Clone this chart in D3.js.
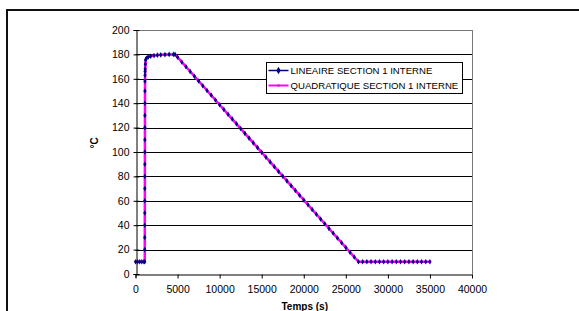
<!DOCTYPE html>
<html>
<head>
<meta charset="utf-8">
<script src="https://cdn.jsdelivr.net/npm/d3@7"></script>
<style>
  body { margin: 0; background: #fff; }
  svg { display: block; font-family: "Liberation Sans", Arial, sans-serif; }
</style>
</head>
<body>
<script>
var width = 579,
    height = 311;

// temps (s) / temperature (°C)
var timeLin = [0, 250, 500, 750, 1000, 1100, 1102, 1104, 1106, 1108, 1110, 1112, 1114, 1116, 1118, 1120,
  1122, 1124, 1126, 1128, 1130, 1135, 1140, 1150, 1170, 1200, 1300, 1500, 1800, 2200, 2600, 3000, 3500,
  4000, 4500, 4700, 5000, 5500, 6000, 6500, 7000, 7500, 8000, 8500, 9000, 9500, 10000, 10500, 11000,
  11500, 12000, 12500, 13000, 13500, 14000, 14500, 15000, 15500, 16000, 16500, 17000, 17500, 18000,
  18500, 19000, 19500, 20000, 20500, 21000, 21500, 22000, 22500, 23000, 23500, 24000, 24500, 25000,
  25500, 26000, 26500, 27000, 27500, 28000, 28500, 29000, 29500, 30000, 30500, 31000, 31500, 32000,
  32500, 33000, 33500, 34000, 34500, 35000];
var tempLin = [10, 10, 10, 10, 10, 10, 20, 30, 40, 50, 60, 70, 80, 90, 100, 110,
  120, 130, 140, 150, 158, 163, 166, 168, 172, 175.5, 176.8, 177.8, 178.5, 179, 179.4, 179.6, 179.8,
  180, 180, 180, 177.7, 173.8, 169.9, 166.0, 162.1, 158.2, 154.3, 150.4, 146.5, 142.6, 138.7, 134.8, 130.9,
  127.0, 123.1, 119.2, 115.3, 111.4, 107.5, 103.6, 99.7, 95.8, 91.9, 88.0, 84.1, 80.2, 76.3,
  72.4, 68.5, 64.6, 60.7, 56.8, 52.9, 49.0, 45.1, 41.2, 37.3, 33.4, 29.5, 25.6, 21.7,
  17.8, 13.9, 10.0, 10, 10, 10, 10, 10, 10, 10, 10, 10, 10, 10,
  10, 10, 10, 10, 10, 10];

var timeQuad = [0, 250, 500, 750, 1000, 1100, 1102, 1104, 1106, 1108, 1110, 1112, 1114, 1116, 1118, 1120,
  1122, 1124, 1126, 1128, 1132, 1140, 1150, 1165, 1185, 1210, 1300, 1500, 1800, 2200, 2600, 3000, 3500,
  4000, 4500, 4700, 5000, 5500, 6000, 6500, 7000, 7500, 8000, 8500, 9000, 9500, 10000, 10500, 11000,
  11500, 12000, 12500, 13000, 13500, 14000, 14500, 15000, 15500, 16000, 16500, 17000, 17500, 18000,
  18500, 19000, 19500, 20000, 20500, 21000, 21500, 22000, 22500, 23000, 23500, 24000, 24500, 25000,
  25500, 26000, 26500, 27000, 27500, 28000, 28500, 29000, 29500, 30000, 30500, 31000, 31500, 32000,
  32500, 33000, 33500, 34000, 34500, 35000];
var tempQuad = [10, 10, 10, 10, 10, 10, 20, 30, 40, 50, 60, 70, 80, 90, 100, 110,
  120, 130, 140, 150, 158, 162, 165, 168, 171.5, 175.5, 176.8, 177.9, 178.6, 179.1, 179.5, 179.7, 179.9,
  180, 180, 180, 177.7, 173.8, 169.9, 166.0, 162.1, 158.2, 154.3, 150.4, 146.5, 142.6, 138.7, 134.8, 130.9,
  127.0, 123.1, 119.2, 115.3, 111.4, 107.5, 103.6, 99.7, 95.8, 91.9, 88.0, 84.1, 80.2, 76.3,
  72.4, 68.5, 64.6, 60.7, 56.8, 52.9, 49.0, 45.1, 41.2, 37.3, 33.4, 29.5, 25.6, 21.7,
  17.8, 13.9, 10.0, 10, 10, 10, 10, 10, 10, 10, 10, 10, 10, 10,
  10, 10, 10, 10, 10, 10];

var xTicks = [0, 5000, 10000, 15000, 20000, 25000, 30000, 35000, 40000];
var yTicks = [0, 20, 40, 60, 80, 100, 120, 140, 160, 180, 200];
var seriesNames = ["LINEAIRE SECTION 1 INTERNE", "QUADRATIQUE SECTION 1 INTERNE"];

var lin = timeLin.map(function(t, i) { return [t, tempLin[i]]; });
var quad = timeQuad.map(function(t, i) { return [t, tempQuad[i]]; });

var x = d3.scaleLinear().domain([0, 40000]).range([135.5, 472]);
var y = d3.scaleLinear().domain([0, 200]).range([274, 30]);

var svg = d3.select("body").append("svg")
    .attr("width", width)
    .attr("height", height);

// cadre
svg.append("rect")
    .attr("x", 7).attr("y", 10)
    .attr("width", 600).attr("height", 320)
    .attr("fill", "#fff")
    .attr("stroke", "#111")
    .attr("stroke-width", 2);

// grille
svg.append("g")
  .selectAll("line")
  .data(yTicks.slice(1))
  .enter().append("line")
    .attr("x1", x(0)).attr("x2", x(40000))
    .attr("y1", function(d) { return Math.round(y(d)) + 0.5; })
    .attr("y2", function(d) { return Math.round(y(d)) + 0.5; })
    .attr("stroke", function(d) { return d == 200 ? "#777" : "#000"; })
    .attr("stroke-width", 1);

// bord droit de la zone de tracé
svg.append("line")
    .attr("x1", x(40000) + 0.5).attr("x2", x(40000) + 0.5)
    .attr("y1", y(200)).attr("y2", y(0))
    .attr("stroke", "#777");

var yAxis = d3.axisLeft(y).tickValues(yTicks).tickSize(3).tickPadding(4);
var xAxis = d3.axisBottom(x).tickValues(xTicks).tickSize(3).tickPadding(8)
    .tickFormat(d3.format("d"));

var gy = svg.append("g")
    .attr("transform", "translate(" + (Math.round(x(0)) + 0.5) + ",0)")
    .call(yAxis);
var gx = svg.append("g")
    .attr("transform", "translate(0," + (Math.round(y(0)) + 0.5) + ")")
    .call(xAxis);

[gx, gy].forEach(function(g) {
  g.select(".domain").attr("stroke", "#000");
  g.selectAll(".tick line").attr("stroke", "#000");
  g.selectAll("text").attr("fill", "#000").style("font-size", "10.5px")
    .style("font-family", "'Liberation Sans', Arial, sans-serif");
});
gy.selectAll(".tick line").attr("x2", 3).attr("x1", -3);
gx.selectAll(".tick line").attr("y1", 0).attr("y2", 4);

// titres des axes
svg.append("text")
    .attr("x", (x(0) + x(40000)) / 2 + 1)
    .attr("y", 310)
    .attr("text-anchor", "middle")
    .style("font-size", "10px")
    .style("font-weight", "bold")
    .text("Temps (s)");

svg.append("text")
    .attr("transform", "translate(98,143) rotate(-90)")
    .attr("text-anchor", "middle")
    .style("font-size", "10px")
    .style("font-weight", "bold")
    .text("°C");

var line = d3.line()
    .x(function(d) { return x(d[0]); })
    .y(function(d) { return y(d[1]); });

var diamond = d3.symbol().type(d3.symbolDiamond).size(9);

// série linéaire
svg.append("path")
    .datum(lin)
    .attr("d", line)
    .attr("fill", "none")
    .attr("stroke", "#000080")
    .attr("stroke-width", 1.5);

// série quadratique
svg.append("path")
    .datum(quad)
    .attr("d", line)
    .attr("fill", "none")
    .attr("stroke", "#ff00ff")
    .attr("stroke-width", 2.5);

svg.append("g")
  .selectAll("path")
  .data(lin)
  .enter().append("path")
    .attr("transform", function(d) { return "translate(" + x(d[0]) + "," + y(d[1]) + ")"; })
    .attr("d", diamond)
    .attr("fill", "#000080");

// légende
var leg = svg.append("g").attr("transform", "translate(266.5,62.5)");
leg.append("rect")
    .attr("width", 196).attr("height", 31)
    .attr("fill", "#fff")
    .attr("stroke", "#000");

var colors = ["#000080", "#ff00ff"];
seriesNames.forEach(function(name, i) {
  var yy = 8 + i * 15;
  leg.append("line")
      .attr("x1", 2).attr("x2", 22)
      .attr("y1", yy).attr("y2", yy)
      .attr("stroke", colors[i])
      .attr("stroke-width", i == 0 ? 1.5 : 2);
  if (i == 0) {
    leg.append("path")
        .attr("transform", "translate(12," + yy + ")")
        .attr("d", d3.symbol().type(d3.symbolDiamond).size(16))
        .attr("fill", colors[i]);
  } else {
    leg.append("rect")
        .attr("x", 11).attr("y", yy - 1)
        .attr("width", 2).attr("height", 2)
        .attr("fill", "#c000c0");
  }
  leg.append("text")
      .attr("x", 24)
      .attr("y", yy + 3.5)
      .style("font-size", "9.6px")
      .text(name);
});
</script>
</body>
</html>
